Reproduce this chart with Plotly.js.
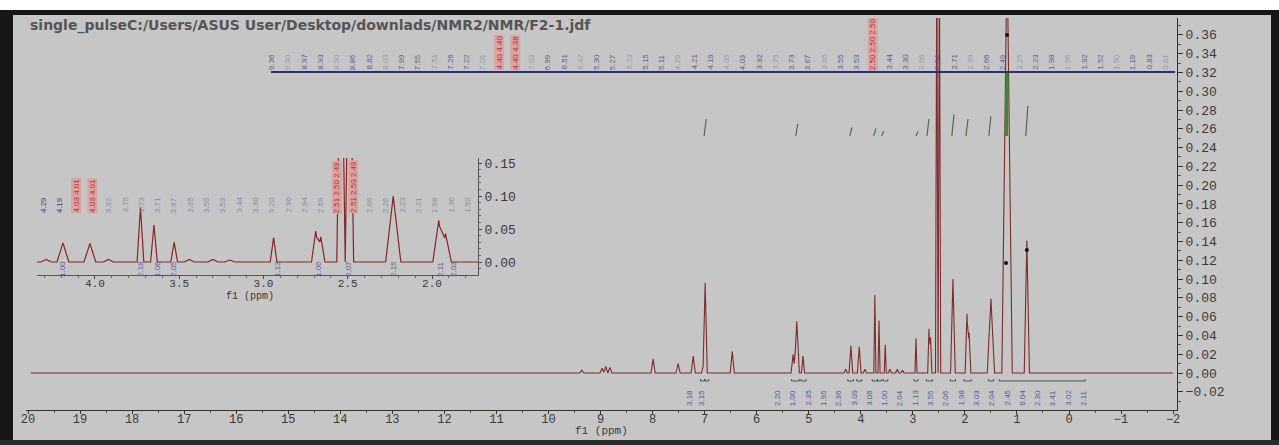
<!DOCTYPE html>
<html><head><meta charset="utf-8">
<script src="https://cdn.plot.ly/plotly-3.0.1.min.js"></script>
<style>
html,body{margin:0;padding:0;background:#fff;}
#chart{width:1279px;height:445px;}
</style></head>
<body><div id="chart"></div>
<script>
// ---- spectrum peaks (ppm, intensity, half-width in ppm) ----
const peakPpm    = [9.36, 8.97, 8.90, 8.82, 7.99, 7.51, 7.22, 7.03, 6.99, 6.47, 5.30, 5.23, 5.11, 4.29, 4.19, 4.03, 3.92, 3.73, 3.65, 3.53, 3.44, 3.30, 3.20, 2.94, 2.69, 2.66, 2.54, 2.49, 2.23, 1.96, 1.92, 1.50, 1.19, 0.81];
const peakHeight = [0.003,0.005,0.007,0.006,0.015,0.010,0.018,0.007,0.096,0.023,0.020,0.055,0.018,0.004,0.029,0.028,0.004,0.083,0.056,0.030,0.004,0.004,0.003,0.037,0.047,0.038,0.45, 0.45, 0.100,0.063,0.043,0.079,0.45, 0.141];
const peakWidth  = [0.04, 0.04, 0.04, 0.04, 0.04, 0.04, 0.04, 0.03, 0.04, 0.04, 0.04, 0.05, 0.03, 0.03, 0.035,0.035,0.03, 0.02, 0.02, 0.02, 0.03, 0.03, 0.03, 0.02, 0.025,0.025,0.025,0.025,0.045,0.035,0.035,0.07, 0.10, 0.05];

// peak-pick markers
const markPpm = [1.19, 1.21, 0.81];
const markVal = [0.360, 0.117, 0.131];

// integral curves (centre ppm, rise)
const intPpm  = [6.99, 5.23, 4.19, 3.73, 3.58, 2.92, 2.71, 2.23, 1.96, 1.52, 0.81];
const intRise = [0.018,0.013,0.009,0.008,0.005,0.005,0.018,0.023,0.018,0.021,0.032];
const bigIntPpm = [1.19];
const bigIntRise = [0.069];

// integration brackets below baseline (from, to)
const brFrom = [7.08, 6.99, 5.33, 5.15, 4.25, 4.08, 3.78, 3.68, 3.57, 2.98, 2.74, 2.28, 2.02, 1.55, 1.34];
const brTo   = [7.00, 6.92, 5.18, 5.05, 4.14, 3.98, 3.68, 3.60, 3.48, 2.90, 2.62, 2.18, 1.88, 1.45, -0.31];

// peak label row (main)
const peakLabels = ["9.36","9.30","8.97","8.93","8.90","8.86","8.82","8.03","7.99","7.55","7.51","7.26","7.22","7.05","4.40 4.40","4.40 4.38","7.03","6.99","6.51","6.47","5.30","5.27","5.23","5.15","5.11","4.29","4.21","4.19","4.05","4.03","3.92","3.75","3.73","3.67","3.65","3.55","3.53","2.50 2.50 2.50","3.44","3.30","2.96","2.94","2.71","2.69","2.66","2.49","2.25","2.23","1.98","1.96","1.92","1.52","1.50","1.19","0.83","0.81"];
const peakLabelsRed = [14, 15, 37];

// integration values (main)
const intLabels = ["3.18","3.15","2.20","1.00","2.35","1.95","2.36","3.09","3.06","1.00","2.04","1.13","3.55","2.06","1.98","3.03","2.04","2.45","6.04","2.30","3.41","3.02","2.11"];

// inset label row
const insetLabels = ["4.29","4.19","4.03 4.01","4.03 4.01","3.92","3.75","3.73","3.71","3.67","3.65","3.55","3.53","3.44","3.30","3.20","2.96","2.94","2.69","2.51 2.50 2.49","2.51 2.50 2.49","2.66","2.26","2.23","2.21","1.98","1.96","1.92"];
const insetLabelsRed = [2, 3, 18, 19];
const insetIntLabels = ["1.00","2.18","1.06","2.05","1.13","1.06","6.07","2.15","2.11","2.03"];

// ---- geometry ----
const L = 26, T = 18, W = 1151, H = 392;
const px = v => (v - L) / W;
const py = v => (T + H - v) / H;
const PPX = 52.05;
const xr = [20 + (28 - L) / PPX, 20 - (1177 - 28) / PPX];

function buildSpectrum(ppm, hgt, wid, lo, hi) {
  const set = new Set([hi, lo]);
  ppm.forEach((p, i) => { set.add(+(p - wid[i]).toFixed(4)); set.add(p); set.add(+(p + wid[i]).toFixed(4)); });
  const xs = Array.from(set).sort((a, b) => b - a);
  const ys = xs.map(x => ppm.reduce((s, p, i) => s + Math.max(0, hgt[i] * (1 - Math.abs(x - p) / wid[i])), 0));
  return {x: xs, y: ys};
}
const spec = buildSpectrum(peakPpm, peakHeight, peakWidth, -2.0, 19.95);

const BASE = 0.2524;
const intX = [], intY = [];
intPpm.forEach((p, i) => { intX.push(p + 0.02, p - 0.02, null); intY.push(BASE, BASE + intRise[i], null); });
const bigX = [], bigY = [];
bigIntPpm.forEach((p, i) => { bigX.push(p + 0.01, p, null); bigY.push(BASE, BASE + bigIntRise[i], null); });
const brX = [], brY = [];
brFrom.forEach((a, i) => { brX.push(a, a, brTo[i], brTo[i], null); brY.push(-0.0065, -0.0085, -0.0085, -0.0065, null); });

const monoFont = {family: 'Liberation Mono, DejaVu Sans Mono, monospace', size: 13, color: '#3a3a3a'};

const traces = [
  {x: spec.x, y: spec.y, type: 'scatter', mode: 'lines', line: {color: '#7d2b2b', width: 1.1}, xaxis: 'x', yaxis: 'y', hoverinfo: 'skip'},
  {x: intX, y: intY, type: 'scatter', mode: 'lines', line: {color: '#4d6e4d', width: 1.2}, xaxis: 'x', yaxis: 'y', hoverinfo: 'skip'},
  {x: bigX, y: bigY, type: 'scatter', mode: 'lines', line: {color: '#2f8f2f', width: 3}, xaxis: 'x', yaxis: 'y', hoverinfo: 'skip'},
  {x: brX, y: brY, type: 'scatter', mode: 'lines', line: {color: '#333', width: 0.8}, xaxis: 'x', yaxis: 'y', hoverinfo: 'skip'},
  {x: markPpm, y: markVal, type: 'scatter', mode: 'markers', marker: {color: '#111', size: 4}, xaxis: 'x', yaxis: 'y', hoverinfo: 'skip'},
  {x: spec.x, y: spec.y, type: 'scatter', mode: 'lines', line: {color: '#8a2424', width: 1.2}, xaxis: 'x2', yaxis: 'y2', hoverinfo: 'skip'}
];

const ann = [];
ann.push({xref: 'paper', yref: 'paper', x: px(28), y: py(25), xanchor: 'left', yanchor: 'middle', showarrow: false,
  text: '<b>single_pulseC:/Users/ASUS User/Desktop/downlads/NMR2/NMR/F2-1.jdf</b>',
  font: {family: 'DejaVu Sans', size: 14, color: '#555555'}});

ann.push({xref: 'paper', yref: 'paper', x: px(601), y: py(431), xanchor: 'center', yanchor: 'middle', showarrow: false,
  text: 'f1 (ppm)', font: {family: 'Liberation Mono, monospace', size: 11, color: '#3a3a3a'}});
ann.push({xref: 'paper', yref: 'paper', x: px(250), y: py(296), xanchor: 'center', yanchor: 'middle', showarrow: false,
  text: 'f1 (ppm)', font: {family: 'Liberation Mono, monospace', size: 10, color: '#3a3a3a'}});

peakLabels.forEach((t, i) => {
  const red = peakLabelsRed.includes(i);
  ann.push({xref: 'paper', yref: 'paper', x: px(271 + i * 16.25), y: py(71), xanchor: 'center', yanchor: 'bottom',
    showarrow: false, textangle: -90, text: t, borderpad: 0,
    bgcolor: red ? '#d9a4a4' : 'rgba(0,0,0,0)',
    font: {family: 'Liberation Sans', size: 8, color: red ? '#b83030' : (i % 3 === 1 ? '#9a9ab4' : '#5e5e92')}});
});

intLabels.forEach((t, i) => {
  const xp = i < 2 ? 689 + i * 12 : 777 + (i - 2) * 15.3;
  ann.push({xref: 'paper', yref: 'paper', x: px(xp), y: py(398), xanchor: 'center', yanchor: 'middle',
    showarrow: false, textangle: -90, text: t, font: {family: 'Liberation Sans', size: 8, color: '#5858a0'}});
});

insetLabels.forEach((t, i) => {
  const red = insetLabelsRed.includes(i);
  ann.push({xref: 'paper', yref: 'paper', x: px(43 + i * 16.3), y: py(214), xanchor: 'center', yanchor: 'bottom',
    showarrow: false, textangle: -90, text: t, borderpad: 0,
    bgcolor: red ? '#d9a4a4' : 'rgba(0,0,0,0)',
    font: {family: 'Liberation Sans', size: 8, color: red ? '#b83030' : (i < 2 ? '#3c3c80' : '#8a8aa8')}});
});

const insetIntX = [62, 140, 157, 173, 277, 318, 348, 393, 440, 453];
insetIntLabels.forEach((t, i) => {
  ann.push({xref: 'paper', yref: 'paper', x: px(insetIntX[i]), y: py(269), xanchor: 'center', yanchor: 'middle',
    showarrow: false, textangle: -90, text: t, font: {family: 'Liberation Sans', size: 8, color: '#6060a0'}});
});

// frame (white strip at top, black border)
const rectPx = (x0, y0, x1, y1, c) => ({type: 'rect', xref: 'paper', yref: 'paper', layer: 'above',
  x0: px(x0), x1: px(x1), y0: py(y1), y1: py(y0), fillcolor: c, line: {width: 0}});

const layout = {
  width: 1279, height: 445,
  margin: {l: L, r: 1279 - L - W, t: T, b: 445 - T - H, pad: 0},
  paper_bgcolor: '#c6c6c6', plot_bgcolor: 'rgba(0,0,0,0)',
  showlegend: false,
  xaxis: {domain: [0, 1], anchor: 'y', range: xr, tick0: 0, dtick: 1, ticks: 'outside', ticklen: 3, tickcolor: '#333',
    showline: true, linecolor: '#333', linewidth: 1, showgrid: false, zeroline: false,
    tickfont: {family: 'Liberation Mono, DejaVu Sans Mono, monospace', size: 12, color: '#3a3a3a'}, ticklabelstandoff: -5,
    minor: {dtick: 0.5, ticks: 'outside', ticklen: 2, tickcolor: '#555', showgrid: false}},
  yaxis: {domain: [0, 1], anchor: 'x', side: 'right', range: [-0.0394, 0.378], tick0: 0, dtick: 0.02, tickformat: '.2f',
    ticks: 'outside', ticklen: 5, tickcolor: '#333', showline: true, linecolor: '#333', linewidth: 1, showgrid: false,
    zeroline: false, tickfont: monoFont,
    minor: {dtick: 0.01, ticks: 'outside', ticklen: 3, tickcolor: '#555', showgrid: false}},
  xaxis2: {domain: [px(37), px(478)], anchor: 'y2', range: [4.344, 1.727], tick0: 0, dtick: 0.5, tickformat: '.1f',
    ticks: 'outside', ticklen: 3, tickcolor: '#444', showline: true, linecolor: '#555', linewidth: 1, showgrid: false,
    zeroline: false, tickfont: {family: 'Liberation Mono, monospace', size: 11, color: '#3a3a3a'}, ticklabelstandoff: -5,
    minor: {dtick: 0.1, ticks: 'outside', ticklen: 2, tickcolor: '#666', showgrid: false}},
  yaxis2: {domain: [py(275), py(158)], anchor: 'x2', side: 'right', range: [-0.0197, 0.1576], tick0: 0, dtick: 0.05,
    tickformat: '.2f', ticks: 'outside', ticklen: 3, tickcolor: '#444', showline: true, linecolor: '#555', linewidth: 1,
    showgrid: false, zeroline: false, tickfont: monoFont,
    minor: {dtick: 0.01, ticks: 'outside', ticklen: 2, tickcolor: '#666', showgrid: false}},
  shapes: [
    {type: 'line', xref: 'paper', yref: 'paper', x0: px(271), x1: px(1175), y0: py(72), y1: py(72), line: {color: '#2d2d7a', width: 2}},
    rectPx(0, 0, 1279, 10, '#ffffff'),
    rectPx(0, 10, 1279, 15, '#161616'),
    rectPx(0, 10, 13, 445, '#161616'),
    rectPx(1271, 10, 1279, 445, '#161616'),
    rectPx(0, 440, 1279, 445, '#2a2a2a')
  ],
  annotations: ann
};

Plotly.newPlot('chart', traces, layout, {staticPlot: true, displayModeBar: false});
</script>
</body></html>
